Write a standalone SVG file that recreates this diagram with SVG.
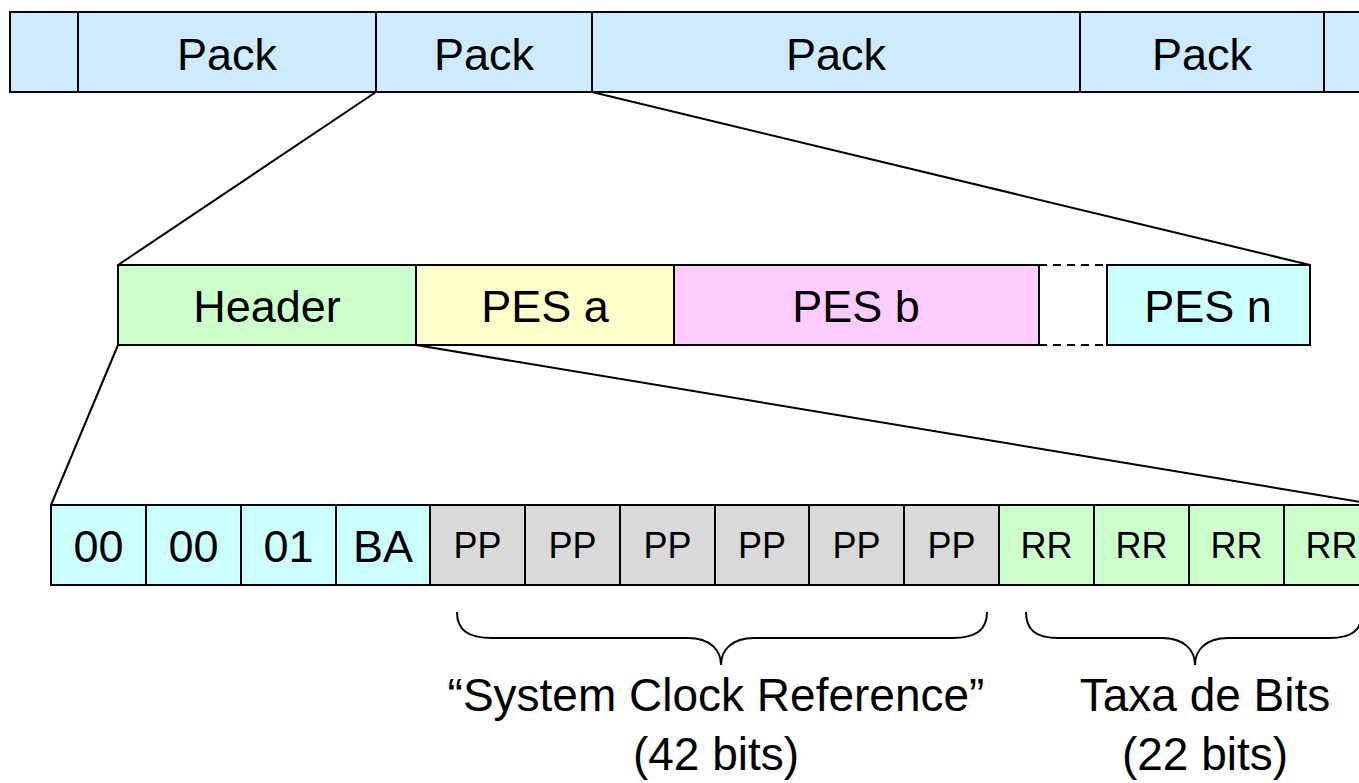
<svg xmlns="http://www.w3.org/2000/svg" width="1359" height="783" viewBox="0 0 1359 783">
<style>
.b{stroke:#000;stroke-width:2}
.t{font-family:"Liberation Sans",Arial,sans-serif;fill:#000;text-anchor:middle}
.l{font-size:45px}
.s{font-size:36px}
.c{fill:none;stroke:#000;stroke-width:2}
.cy{fill:#ccffff}.gr{fill:#d9d9d9}.gn{fill:#ccffcc}.bl{fill:#cdeaff}
</style>
<rect width="1359" height="783" fill="#fff"/>
<g id="connectors">
<line class="c" x1="376" y1="92" x2="118" y2="265"/>
<line class="c" x1="592" y1="92" x2="1310" y2="265"/>
<line class="c" x1="118" y1="345" x2="51" y2="505"/>
<line class="c" x1="416" y1="345" x2="1379" y2="505"/>
<line class="c" x1="1039" y1="265" x2="1107" y2="265" stroke-dasharray="8,6"/>
<line class="c" x1="1039" y1="345" x2="1107" y2="345" stroke-dasharray="8,6"/>
</g>
<g id="top-bar">
<rect class="b bl" x="10" y="12" width="1370" height="80"/>
<line class="b" x1="78" y1="12" x2="78" y2="92"/>
<line class="b" x1="376" y1="12" x2="376" y2="92"/>
<line class="b" x1="592" y1="12" x2="592" y2="92"/>
<line class="b" x1="1080" y1="12" x2="1080" y2="92"/>
<line class="b" x1="1324" y1="12" x2="1324" y2="92"/>
<text class="t l" x="227" y="70">Pack</text>
<text class="t l" x="484" y="70">Pack</text>
<text class="t l" x="836" y="70">Pack</text>
<text class="t l" x="1202" y="70">Pack</text>
</g>
<g id="header"><rect class="b gn" x="118" y="265" width="298" height="80"/><text class="t l" x="267" y="322">Header</text></g>
<g id="pes-a"><rect class="b" fill="#ffffcc" x="416" y="265" width="258" height="80"/><text class="t l" x="545" y="322">PES a</text></g>
<g id="pes-b"><rect class="b" fill="#ffccff" x="674" y="265" width="365" height="80"/><text class="t l" x="856" y="322">PES b</text></g>
<g id="pes-n"><rect class="b cy" x="1107" y="265" width="203" height="80"/><text class="t l" x="1208" y="322">PES n</text></g>
<g id="bytes">
<rect class="b cy" x="51" y="505" width="95" height="80"/><text class="t l" x="98.5" y="562">00</text>
<rect class="b cy" x="146" y="505" width="95" height="80"/><text class="t l" x="193.5" y="562">00</text>
<rect class="b cy" x="241" y="505" width="95" height="80"/><text class="t l" x="288.5" y="562">01</text>
<rect class="b cy" x="336" y="505" width="94" height="80"/><text class="t l" x="383" y="562">BA</text>
<rect class="b gr" x="430" y="505" width="95" height="80"/><text class="t s" x="477.5" y="558">PP</text>
<rect class="b gr" x="525" y="505" width="95" height="80"/><text class="t s" x="572.5" y="558">PP</text>
<rect class="b gr" x="620" y="505" width="95" height="80"/><text class="t s" x="667.5" y="558">PP</text>
<rect class="b gr" x="715" y="505" width="94" height="80"/><text class="t s" x="762" y="558">PP</text>
<rect class="b gr" x="809" y="505" width="95" height="80"/><text class="t s" x="856.5" y="558">PP</text>
<rect class="b gr" x="904" y="505" width="95" height="80"/><text class="t s" x="951.5" y="558">PP</text>
<rect class="b gn" x="999" y="505" width="95" height="80"/><text class="t s" x="1046.5" y="558">RR</text>
<rect class="b gn" x="1094" y="505" width="95" height="80"/><text class="t s" x="1141.5" y="558">RR</text>
<rect class="b gn" x="1189" y="505" width="95" height="80"/><text class="t s" x="1236.5" y="558">RR</text>
<rect class="b gn" x="1284" y="505" width="95" height="80"/><text class="t s" x="1331.5" y="558">RR</text>
</g>
<g id="scr-brace">
<path class="c" d="M457,612 C457,630 468,638 492,638 L688,638 C710,638 721,650 721,665 C721,650 732,638 754,638 L952,638 C976,638 987,630 987,612"/>
<text class="t" font-size="46" x="716" y="711">“System Clock Reference”</text>
<text class="t" font-size="46" x="716" y="770">(42 bits)</text>
</g>
<g id="rate-brace">
<path class="c" d="M1026,612 C1026,630 1036,638 1058,638 L1162,638 C1184,638 1195,650 1195,665 C1195,650 1206,638 1228,638 L1330,638 C1352,638 1362,630 1362,612"/>
<text class="t" font-size="46" x="1205" y="711">Taxa de Bits</text>
<text class="t" font-size="46" x="1205" y="770">(22 bits)</text>
</g>
</svg>
